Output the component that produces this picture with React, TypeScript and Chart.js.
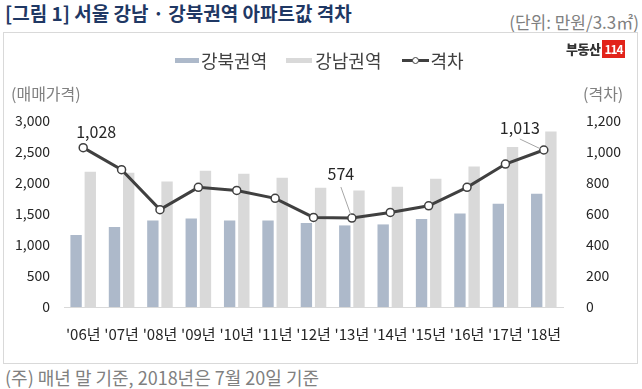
import React, { useEffect, useRef } from "react";
import { Chart, registerables } from "chart.js";

Chart.register(...registerables);

const categories = ["'06년", "'07년", "'08년", "'09년", "'10년", "'11년", "'12년", "'13년", "'14년", "'15년", "'16년", "'17년", "'18년"];
const gangbuk = [1161, 1290, 1397, 1429, 1397, 1397, 1355, 1316, 1332, 1419, 1510, 1666, 1827];
const gangnam = [2182, 2166, 2026, 2198, 2150, 2086, 1924, 1881, 1940, 2069, 2268, 2581, 2832];
const gap = [1028, 886, 628, 772, 752, 701, 578, 574, 610, 653, 772, 922, 1013];
const labeledIdx = [0, 7, 12];
const leftTicks = { min: 0, max: 3000, step: 500 };
const rightTicks = { min: 0, max: 1200, step: 200 };

const FONT = "'Noto Sans CJK KR', 'Noto Sans', sans-serif";

const labelPlugin = {
  id: "gapLabels",
  afterDatasetsDraw(chart: any) {
    const meta = chart.getDatasetMeta(2);
    const ctx = chart.ctx;
    const offsets: Record<number, { dx: number; dy: number; leader?: [number, number, number, number] }> = {
      0: { dx: 13, dy: -16 },
      7: { dx: -11, dy: -44, leader: [-11, -31, -1, -3] },
      12: { dx: -24, dy: -22, leader: [-24, -11, -3, -1] },
    };
    ctx.save();
    labeledIdx.forEach((i) => {
      const p = meta.data[i];
      if (!p) return;
      const o = offsets[i] || { dx: 0, dy: -16 };
      if (o.leader) {
        ctx.strokeStyle = "#a6a6a6";
        ctx.lineWidth = 1;
        ctx.beginPath();
        ctx.moveTo(p.x + o.leader[0], p.y + o.leader[1]);
        ctx.lineTo(p.x + o.leader[2], p.y + o.leader[3]);
        ctx.stroke();
      }
      ctx.fillStyle = "#262626";
      ctx.font = `16px ${FONT}`;
      ctx.textAlign = "center";
      ctx.textBaseline = "middle";
      ctx.fillText(gap[i].toLocaleString("en-US"), p.x + o.dx, p.y + o.dy);
    });
    ctx.restore();
  },
};

export default function App() {
  const ref = useRef<HTMLCanvasElement>(null);
  useEffect(() => {
    if (!ref.current) return;
    Chart.defaults.font.family = FONT;
    const chart = new Chart(ref.current, {
      type: "bar",
      data: {
        labels: categories,
        datasets: [
          {
            type: "bar",
            label: "강북권역",
            data: gangbuk,
            backgroundColor: "#adb9ca",
            yAxisID: "y",
            order: 1,
            categoryPercentage: 0.74,
            barPercentage: 0.8,
          },
          {
            type: "bar",
            label: "강남권역",
            data: gangnam,
            backgroundColor: "#d9d9d9",
            yAxisID: "y",
            order: 1,
            categoryPercentage: 0.74,
            barPercentage: 0.8,
          },
          {
            type: "line",
            label: "격차",
            data: gap,
            yAxisID: "y1",
            order: 0,
            borderColor: "#404040",
            borderWidth: 3,
            pointRadius: 4,
            pointBorderWidth: 1.5,
            pointBackgroundColor: "#ffffff",
            pointBorderColor: "#404040",
            tension: 0,
          },
        ],
      } as any,
      options: {
        responsive: false,
        animation: false,
        devicePixelRatio: 1,
        layout: { padding: { top: 88, left: 0, right: 0, bottom: 0 } },
        plugins: { legend: { display: false }, tooltip: { enabled: false } },
        scales: {
          x: {
            grid: { display: false, drawTicks: false },
            border: { display: true, color: "#d9d9d9", width: 1 },
            ticks: {
              color: "#262626",
              font: { size: 15 },
              autoSkip: false,
              maxRotation: 0,
              padding: 18,
            },
            afterFit: (s: any) => {
              s.height = 50;
            },
          },
          y: {
            position: "left",
            min: leftTicks.min,
            max: leftTicks.max,
            grid: { display: false, drawTicks: false },
            border: { display: false },
            ticks: {
              stepSize: leftTicks.step,
              color: "#262626",
              font: { size: 14 },
              padding: 14,
              callback: (v: any) => Number(v).toLocaleString("en-US"),
            },
            afterFit: (s: any) => {
              s.width = 60;
            },
          },
          y1: {
            position: "right",
            min: rightTicks.min,
            max: rightTicks.max,
            grid: { display: false, drawTicks: false },
            border: { display: false },
            ticks: {
              stepSize: rightTicks.step,
              color: "#262626",
              font: { size: 14 },
              padding: 23,
              callback: (v: any) => Number(v).toLocaleString("en-US"),
            },
            afterFit: (s: any) => {
              s.width = 74;
            },
          },
        },
      } as any,
      plugins: [labelPlugin],
    });
    return () => chart.destroy();
  }, []);

  const abs = (o: React.CSSProperties): React.CSSProperties => ({ position: "absolute", whiteSpace: "nowrap", fontFamily: FONT, ...o });

  return (
    <div style={{ position: "absolute", left: 0, top: 0, width: 642, height: 389, background: "#fff", overflow: "hidden" }}>
      <div style={abs({ left: 5, top: 1, fontSize: 19, fontWeight: 700, color: "#1f3864", lineHeight: "24px" })}>
        [그림 1] 서울 강남 · 강북권역 아파트값 격차
      </div>
      <div style={abs({ right: 3, top: 12, fontSize: 17, color: "#808080", lineHeight: "20px" })}>(단위: 만원/3.3㎡)</div>
      <div style={abs({ left: 3, top: 32, width: 635, height: 332, border: "1px solid #d9d9d9", boxSizing: "border-box" })} />
      <canvas ref={ref} width={633} height={324} style={abs({ left: 4, top: 33, width: 633, height: 324 })} />
      {/* logo */}
      <div style={abs({ left: 566, top: 40, height: 18, display: "flex", alignItems: "center" })}>
        <span style={{ fontSize: 13, fontWeight: 900, color: "#333", letterSpacing: -0.5, lineHeight: "18px" }}>부동산</span>
        <span style={{ marginLeft: 2, background: "#e2231a", color: "#fff", fontSize: 12, fontWeight: 700, lineHeight: "18px", padding: "0 2px", letterSpacing: -1 }}>114</span>
      </div>
      {/* legend */}
      <div style={abs({ left: 175, top: 50, height: 20, display: "flex", alignItems: "center", fontSize: 18, color: "#404040", lineHeight: "20px" })}>
        <span style={{ display: "inline-block", width: 24, height: 5, background: "#adb9ca" }} />
        <span style={{ marginLeft: 2 }}>강북권역</span>
        <span style={{ display: "inline-block", width: 26, height: 5, background: "#d9d9d9", marginLeft: 19 }} />
        <span style={{ marginLeft: 3 }}>강남권역</span>
        <span style={{ position: "relative", display: "inline-block", width: 27, height: 10, marginLeft: 20 }}>
          <span style={{ position: "absolute", left: 0, top: 4, width: 27, height: 2.5, background: "#404040" }} />
          <span style={{ position: "absolute", left: 10, top: 1.5, width: 5, height: 5, borderRadius: "50%", background: "#fff", border: "1.2px solid #404040" }} />
        </span>
        <span style={{ marginLeft: 2 }}>격차</span>
      </div>
      <div style={abs({ left: 11, top: 83, fontSize: 16, color: "#808080", lineHeight: "20px" })}>(매매가격)</div>
      <div style={abs({ left: 583, top: 83, fontSize: 16, color: "#808080", lineHeight: "20px" })}>(격차)</div>
      <div style={abs({ left: 5, top: 366, fontSize: 18, color: "#808080", lineHeight: "22px" })}>(주) 매년 말 기준, 2018년은 7월 20일 기준</div>
    </div>
  );
}
